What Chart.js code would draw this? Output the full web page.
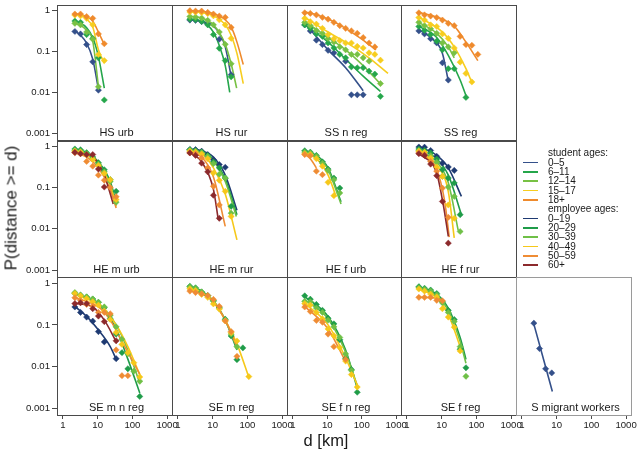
<!DOCTYPE html>
<html><head><meta charset="utf-8">
<script src="https://cdn.jsdelivr.net/npm/chart.js@4.4.1/dist/chart.umd.min.js"></script>
<style>
html,body{margin:0;padding:0;background:#fff;}
#wrap{position:relative;width:639px;height:451px;overflow:hidden;font-family:"Liberation Sans",Arial,Helvetica,sans-serif;color:#1a1a1a;}
#wrap canvas{position:absolute;left:0;top:0;}
.t{position:absolute;white-space:nowrap;line-height:1;}
</style></head><body><div id="wrap"></div>
<script>
// ---------- data ----------
const D_KM = [2.2, 3.2, 4.8, 7.2, 10.5, 15.5, 23, 34, 50, 74, 110, 163, 240, 350]; // distance bins
const STUDENT_AGES = ['0–5', '6–11', '12–14', '15–17', '18+'];
const EMPLOYEE_AGES = ['0–19', '20–29', '30–39', '40–49', '50–59', '60+'];
const X_TICKS = [1, 10, 100, 1000];
const Y_TICKS = [1, 0.1, 0.01, 0.001];
const PANEL_TITLES = ['HS urb', 'HS rur', 'SS n reg', 'SS reg', 'HE m urb', 'HE m rur', 'HE f urb', 'HE f rur',
  'SE m n reg', 'SE m reg', 'SE f n reg', 'SE f reg', 'S migrant workers'];

// points: one array per age series, values at D_KM bins (null = no point)
// fits: one array per age series, [d, P] pairs
const HS_URB_PTS = [
  [0.31, 0.27, 0.148, 0.056, 0.0113],
  [0.56, 0.52, 0.26, 0.21, 0.07, 0.0065],
  [0.49, 0.45, 0.3, 0.2, 0.0137],
  [0.78, 0.75, 0.65, 0.45, 0.0845, 0.06],
  [0.83, 0.83, 0.72, 0.65, 0.27, 0.155]];
const HS_URB_FIT = [
  [[2.2, 0.32], [3.2, 0.25], [4.8, 0.16], [7.2, 0.065], [10.5, 0.012]],
  [[2.2, 0.55], [3.2, 0.5], [4.8, 0.38], [7.2, 0.22], [10.5, 0.075], [15.5, 0.0127]],
  [[2.2, 0.49], [3.2, 0.44], [4.8, 0.33], [7.2, 0.18], [10.5, 0.014]],
  [[2.2, 0.8], [3.2, 0.75], [4.8, 0.62], [7.2, 0.4], [10.5, 0.11], [15.5, 0.052]],
  [[2.2, 0.85], [3.2, 0.8], [4.8, 0.72], [7.2, 0.55], [10.5, 0.3], [15.5, 0.148]]];

const HS_RUR_PTS = [
  [0.59, 0.58, 0.54, 0.47, null, 0.2, null, 0.027],
  [0.62, 0.6, 0.55, 0.45, 0.26, 0.12, 0.06, 0.024],
  [0.72, 0.7, 0.66, 0.58, 0.45, 0.3, 0.15, 0.05],
  [0.93, 0.92, 0.9, 0.85, 0.75, 0.6, 0.45, 0.21],
  [1.0, 0.98, 0.98, 0.91, 0.83, 0.74, 0.69, 0.39]];
const HS_RUR_FIT = [
  [[2.2, 0.6], [4.8, 0.55], [10.5, 0.42], [15.5, 0.28], [23, 0.13], [34, 0.025]],
  [[2.2, 0.62], [4.8, 0.55], [10.5, 0.3], [15.5, 0.14], [23, 0.045], [31, 0.01]],
  [[2.2, 0.73], [4.8, 0.66], [10.5, 0.45], [23, 0.15], [34, 0.05], [49, 0.0127]],
  [[2.2, 0.95], [4.8, 0.9], [10.5, 0.75], [23, 0.45], [34, 0.25], [50, 0.09], [76, 0.0164]],
  [[2.2, 1.0], [4.8, 0.97], [10.5, 0.85], [23, 0.6], [34, 0.4], [50, 0.17], [76, 0.048]]];

const SS_NREG_PTS = [
  [0.45, 0.32, 0.19, 0.148, 0.107, 0.093, null, 0.058, 0.0087, 0.0087, 0.0087],
  [0.45, 0.37, 0.27, 0.235, 0.162, 0.122, 0.085, 0.07, 0.042, 0.04, 0.04, 0.033, 0.028, 0.008],
  [0.52, 0.43, 0.33, 0.28, 0.21, 0.17, 0.13, 0.11, 0.085, 0.085, 0.07, 0.058, null, 0.0164],
  [0.65, 0.54, 0.47, 0.37, 0.26, 0.206, 0.185, 0.162, 0.162, 0.134, 0.122, 0.093, 0.085, 0.0615],
  [0.89, 0.86, 0.79, 0.69, 0.62, 0.52, 0.43, 0.37, 0.32, 0.28, 0.22, 0.162, 0.13]];
const SS_NREG_FIT = [
  [[2.2, 0.49], [10.5, 0.11], [34, 0.04], [110, 0.011]],
  [[2.2, 0.45], [10.5, 0.17], [34, 0.065], [110, 0.025], [350, 0.0105]],
  [[2.2, 0.55], [10.5, 0.22], [34, 0.11], [110, 0.045], [350, 0.016]],
  [[2.2, 0.68], [10.5, 0.3], [50, 0.14], [163, 0.07], [580, 0.029]],
  [[2.2, 0.93], [4.8, 0.8], [10.5, 0.63], [23, 0.45], [50, 0.3], [110, 0.19], [260, 0.11]]];

const SS_REG_PTS = [
  [0.32, 0.27, 0.206, 0.162, 0.053, 0.02],
  [0.41, 0.33, 0.26, 0.18, 0.11, 0.038, 0.038, null, 0.0075],
  [0.52, 0.43, 0.36, 0.28, 0.162, 0.13, 0.093],
  [0.68, 0.59, 0.45, 0.41, 0.27, 0.21, 0.122, 0.055, 0.029, 0.018],
  [0.89, 0.79, 0.74, 0.68, 0.59, 0.49, 0.43, 0.235, 0.148, 0.142, 0.085]];
const SS_REG_FIT = [
  [[2.2, 0.34], [4.8, 0.22], [10.5, 0.09], [15.5, 0.019]],
  [[2.2, 0.42], [7.2, 0.22], [15.5, 0.08], [34, 0.02], [50, 0.0083]],
  [[2.2, 0.52], [7.2, 0.28], [15.5, 0.13], [23, 0.07]],
  [[2.2, 0.7], [10.5, 0.3], [23, 0.13], [50, 0.038], [74, 0.0175]],
  [[2.2, 0.92], [10.5, 0.62], [23, 0.42], [50, 0.17], [110, 0.06]]];

const HE_MURB_PTS = [
  [],
  [0.86, 0.82, 0.7, 0.55, 0.4, 0.27, 0.155, 0.081],
  [0.8, 0.76, 0.66, 0.52, 0.37, 0.24, 0.14, 0.044],
  [0.76, 0.72, 0.62, 0.48, 0.34, 0.22, 0.155, 0.051],
  [0.7, 0.66, 0.43, 0.33, 0.2, 0.15, 0.1, 0.06],
  [0.71, 0.66, 0.63, 0.63, 0.28, 0.103]];
const HE_MURB_FIT = [
  [],
  [[2.2, 0.85], [4.8, 0.72], [10.5, 0.42], [23, 0.14], [34, 0.045]],
  [[2.2, 0.8], [4.8, 0.68], [10.5, 0.38], [23, 0.12], [34, 0.038]],
  [[2.2, 0.76], [4.8, 0.64], [10.5, 0.36], [23, 0.11], [34, 0.035]],
  [[2.2, 0.7], [4.8, 0.55], [10.5, 0.3], [23, 0.09], [34, 0.032]],
  [[2.2, 0.72], [7.2, 0.55], [15.5, 0.2], [28, 0.04]]];

const HE_MRUR_PTS = [
  [0.83, 0.83, 0.76, 0.63, 0.47, 0.36, 0.31],
  [0.83, 0.79, 0.73, 0.6, 0.42, 0.3, 0.17, 0.035],
  [0.8, 0.76, 0.7, 0.57, 0.38, 0.21, 0.17, 0.024],
  [0.76, 0.72, 0.65, 0.5, 0.225, 0.15, 0.081, 0.02],
  [0.69, 0.66, 0.52, 0.3, 0.107, 0.038],
  [0.69, 0.6, 0.39, 0.24, 0.065, 0.018]];
const HE_MRUR_FIT = [
  [[2.2, 0.85], [4.8, 0.78], [10.5, 0.55], [23, 0.2], [50, 0.028]],
  [[2.2, 0.84], [4.8, 0.75], [10.5, 0.48], [23, 0.16], [50, 0.022]],
  [[2.2, 0.8], [4.8, 0.72], [10.5, 0.44], [23, 0.14], [48, 0.02]],
  [[2.2, 0.77], [4.8, 0.66], [10.5, 0.3], [23, 0.07], [50, 0.0054]],
  [[2.2, 0.7], [4.8, 0.55], [10.5, 0.18], [23, 0.0115]],
  [[2.2, 0.7], [4.8, 0.42], [10.5, 0.09], [14.5, 0.0166]]];

const HE_FURB_PTS = [
  [],
  [0.78, 0.72, 0.6, 0.42, 0.28, 0.17, 0.097],
  [0.72, 0.69, 0.57, 0.39, 0.26, 0.155, 0.074],
  [0.66, 0.63, 0.5, 0.33, 0.134, 0.0635],
  [0.63, 0.59, 0.25, 0.205],
  []];
const HE_FURB_FIT = [
  [],
  [[2.2, 0.78], [4.8, 0.6], [10.5, 0.3], [25, 0.045]],
  [[2.2, 0.72], [4.8, 0.56], [10.5, 0.27], [25, 0.04]],
  [[2.2, 0.67], [4.8, 0.5], [10.5, 0.2], [18, 0.06]],
  [[2.2, 0.64], [3.2, 0.5], [4.8, 0.3]],
  []];

const HE_FRUR_PTS = [
  [0.96, 0.95, 0.79, 0.57, 0.39, 0.315, 0.26],
  [0.86, 0.8, 0.69, 0.49, 0.27, 0.17, 0.129, 0.022],
  [0.8, 0.71, 0.59, 0.41, 0.187, 0.103, 0.061, 0.0086],
  [0.76, 0.72, 0.52, 0.315, 0.187, 0.038, 0.018],
  [0.69, 0.63, 0.43, 0.25, 0.097, 0.019],
  [0.66, 0.6, 0.37, 0.194, 0.046, 0.0045]];
const HE_FRUR_FIT = [
  [[2.2, 0.97], [7.2, 0.6], [15.5, 0.3], [37, 0.061]],
  [[2.2, 0.88], [7.2, 0.5], [15.5, 0.2], [37, 0.022]],
  [[2.2, 0.8], [7.2, 0.42], [15.5, 0.13], [30, 0.009]],
  [[2.2, 0.77], [7.2, 0.35], [15.5, 0.08], [23, 0.006]],
  [[2.2, 0.7], [7.2, 0.27], [12, 0.05], [16.5, 0.0063]],
  [[2.2, 0.67], [7.2, 0.22], [11, 0.04], [15.5, 0.0066]]];

const SE_MNREG_PTS = [
  [0.27, 0.2, 0.154, 0.123, 0.069, 0.039, null, 0.0154],
  [0.57, 0.52, 0.47, 0.42, 0.35, 0.26, 0.14, 0.06, 0.0215, 0.0088, null, 0.0019],
  [0.6, 0.52, 0.47, 0.42, 0.35, 0.27, 0.17, 0.09, 0.045, 0.02, 0.0077, 0.0044],
  [0.57, 0.5, 0.43, 0.36, 0.3, 0.215, 0.135, 0.066, 0.034, 0.0215, 0.0123, 0.0056],
  [0.45, 0.39, 0.31, 0.285, 0.2, 0.2, 0.185, 0.025, 0.006, 0.006],
  [0.325, 0.34, 0.325, 0.245, 0.163, 0.12, null, 0.0415]];
const SE_MNREG_FIT = [
  [[2.2, 0.28], [4.8, 0.16], [10.5, 0.075], [23, 0.03], [34, 0.015]],
  [[2.2, 0.55], [10.5, 0.33], [34, 0.08], [74, 0.015], [163, 0.0023]],
  [[2.2, 0.55], [10.5, 0.33], [34, 0.1], [74, 0.025], [163, 0.004]],
  [[2.2, 0.55], [10.5, 0.3], [34, 0.1], [74, 0.03], [170, 0.0058]],
  [[2.2, 0.45], [10.5, 0.27], [23, 0.13], [50, 0.04], [110, 0.012], [163, 0.0065]],
  [[2.2, 0.33], [7.2, 0.27], [15.5, 0.13], [34, 0.04]]];

const SE_MREG_PTS = [
  [],
  [0.85, 0.78, 0.62, 0.51, 0.385, 0.265, 0.137, 0.054, 0.0146, 0.028],
  [0.82, 0.76, 0.62, 0.5, 0.37, 0.25, 0.13, 0.06, 0.03],
  [0.74, 0.67, 0.54, 0.46, 0.32, 0.24, 0.125, 0.065, 0.041, null, 0.0057],
  [0.65, 0.6, 0.56, 0.51, 0.41, 0.28, 0.125, 0.069, 0.0175],
  []];
const SE_MREG_FIT = [
  [],
  [[2.2, 0.85], [4.8, 0.66], [10.5, 0.38], [23, 0.13], [50, 0.025]],
  [[2.2, 0.82], [4.8, 0.64], [10.5, 0.37], [23, 0.13], [50, 0.028]],
  [[2.2, 0.75], [4.8, 0.6], [10.5, 0.35], [23, 0.13], [50, 0.035], [110, 0.0055]],
  [[2.2, 0.66], [4.8, 0.56], [10.5, 0.36], [23, 0.13], [50, 0.03]],
  []];

const SE_FNREG_PTS = [
  [],
  [0.5, 0.415, 0.31, 0.224, 0.145, 0.106, 0.044, 0.0154, 0.0085, 0.0024],
  [0.37, 0.36, 0.255, 0.2, 0.13, 0.09, 0.05, 0.02, 0.008],
  [0.325, 0.3, 0.2, 0.14, 0.08, 0.055, 0.0285, 0.0135, 0.0064, 0.0032],
  [0.27, 0.21, 0.128, 0.116, 0.06, 0.03, null, 0.0148],
  []];
const SE_FNREG_FIT = [
  [],
  [[2.2, 0.48], [10.5, 0.16], [34, 0.025], [74, 0.003]],
  [[2.2, 0.4], [10.5, 0.14], [34, 0.022], [74, 0.0035]],
  [[2.2, 0.33], [10.5, 0.1], [34, 0.016], [77, 0.0033]],
  [[2.2, 0.28], [10.5, 0.08], [34, 0.013]],
  []];

const SE_FREG_PTS = [
  [],
  [0.83, 0.76, 0.69, 0.57, 0.36, 0.224, 0.135, 0.026, 0.0093],
  [0.78, 0.72, 0.65, 0.53, 0.34, 0.2, 0.12, 0.03, 0.0058],
  [0.73, 0.65, 0.55, 0.47, 0.245, 0.154, 0.088, 0.0237],
  [0.46, 0.46, 0.46, 0.39, 0.38],
  []];
const SE_FREG_FIT = [
  [],
  [[2.2, 0.82], [7.2, 0.55], [15.5, 0.25], [34, 0.05], [50, 0.0148]],
  [[2.2, 0.78], [7.2, 0.5], [15.5, 0.22], [34, 0.04], [50, 0.012]],
  [[2.2, 0.72], [7.2, 0.45], [15.5, 0.18], [34, 0.03]],
  [[2.2, 0.46], [7.2, 0.44], [10.5, 0.38]],
  []];

const S_MIGRANT_PTS = [[0.11, 0.027, 0.0088, 0.007]];
const S_MIGRANT_FIT = [[[2.1, 0.12], [7.5, 0.0025]]];

// ---------- styles & layout ----------
const STUDENT_COLORS = ['#34508a', '#25a64b', '#78c144', '#f7cd1f', '#ef8a2c'];
const EMPLOYEE_COLORS = ['#1e3a72', '#1f9c49', '#6fc047', '#f6c81a', '#ef8c34', '#8c2a2c'];
const COL_LEFT = [57, 172, 287, 401, 516];
const COL_RIGHT = [172, 287, 401, 516, 631];
const ROW_TOP = [3, 140, 277];
const ROW_BOTTOM = [140, 277, 415];
const X_MIN = 0.672, X_MAX = 1384, Y_MIN = 0.00068, Y_MAX = 1.42;
const W = 639, H = 451;
const FONT = '"Liberation Sans", Arial, Helvetica, sans-serif';

const PANELS = [
  { r: 0, c: 0, g: 's', pts: HS_URB_PTS, fit: HS_URB_FIT },
  { r: 0, c: 1, g: 's', pts: HS_RUR_PTS, fit: HS_RUR_FIT },
  { r: 0, c: 2, g: 's', pts: SS_NREG_PTS, fit: SS_NREG_FIT },
  { r: 0, c: 3, g: 's', pts: SS_REG_PTS, fit: SS_REG_FIT },
  { r: 1, c: 0, g: 'e', pts: HE_MURB_PTS, fit: HE_MURB_FIT },
  { r: 1, c: 1, g: 'e', pts: HE_MRUR_PTS, fit: HE_MRUR_FIT },
  { r: 1, c: 2, g: 'e', pts: HE_FURB_PTS, fit: HE_FURB_FIT },
  { r: 1, c: 3, g: 'e', pts: HE_FRUR_PTS, fit: HE_FRUR_FIT },
  { r: 2, c: 0, g: 'e', pts: SE_MNREG_PTS, fit: SE_MNREG_FIT },
  { r: 2, c: 1, g: 'e', pts: SE_MREG_PTS, fit: SE_MREG_FIT },
  { r: 2, c: 2, g: 'e', pts: SE_FNREG_PTS, fit: SE_FNREG_FIT },
  { r: 2, c: 3, g: 'e', pts: SE_FREG_PTS, fit: SE_FREG_FIT },
  { r: 2, c: 4, g: 's', pts: S_MIGRANT_PTS, fit: S_MIGRANT_FIT }
].map((p, i) => Object.assign(p, { title: PANEL_TITLES[i] }));

const wrap = document.getElementById('wrap');

const framePlugin = {
  id: 'frame',
  afterDraw(chart, args, opts) {
    const a = chart.chartArea, ctx = chart.ctx;
    ctx.save();
    ctx.strokeStyle = opts.color || '#4a4a4a';
    ctx.lineWidth = 1;
    ctx.strokeRect(Math.round(a.left) + 0.5, Math.round(a.top) + 0.5,
      Math.round(a.right - a.left), Math.round(a.bottom - a.top));
    ctx.restore();
  }
};

function addText(txt, x, y, size, extra) {
  const d = document.createElement('div');
  d.className = 't';
  d.textContent = txt;
  d.style.fontSize = size + 'px';
  d.style.left = x + 'px';
  d.style.top = y + 'px';
  d.style.transform = extra || 'translate(-50%,-50%)';
  wrap.appendChild(d);
  return d;
}

PANELS.forEach(p => {
  const cv = document.createElement('canvas');
  cv.width = W; cv.height = H;
  wrap.appendChild(cv);
  const colors = p.g === 's' ? STUDENT_COLORS : EMPLOYEE_COLORS;
  const showY = p.c === 0, showX = p.r === 2;
  const yw = showY ? 50 : 0, xh = showX ? 20 : 0;
  const L = COL_LEFT[p.c], R = COL_RIGHT[p.c], T = ROW_TOP[p.r], B = ROW_BOTTOM[p.r];

  const pointSets = [], lineSets = [];
  for (let s = p.pts.length - 1; s >= 0; s--) {
    const vals = p.pts[s] || [];
    const data = [];
    vals.forEach((v, i) => { if (v !== null && v !== undefined) data.push({ x: D_KM[i], y: v }); });
    if (data.length) pointSets.push({
      data, showLine: false, pointStyle: 'rectRot', pointRadius: 3.1,
      backgroundColor: colors[s], borderColor: colors[s], borderWidth: 0.5
    });
    const f = (p.fit[s] || []).map(q => ({ x: q[0], y: q[1] }));
    if (f.length) lineSets.push({
      data: f, showLine: true, pointRadius: 0, borderColor: colors[s], borderWidth: 1.6,
      cubicInterpolationMode: 'monotone', tension: 0.4, fill: false
    });
  }

  const tickFont = { family: FONT, size: 9.6 };
  new Chart(cv, {
    type: 'scatter',
    data: { datasets: pointSets.concat(lineSets) },
    options: {
      responsive: false, animation: false, devicePixelRatio: 1,
      events: [],
      layout: { padding: { left: L - yw, top: T, right: W - R, bottom: H - B - xh } },
      plugins: { legend: { display: false }, tooltip: { enabled: false },
        frame: { color: p.c === 4 ? '#9a9a9a' : '#4a4a4a' } },
      scales: {
        x: {
          type: 'logarithmic', position: 'bottom', min: X_MIN, max: X_MAX,
          afterBuildTicks: sc => { sc.ticks = X_TICKS.map(v => ({ value: v })); },
          afterFit: sc => { sc.height = xh; sc.paddingLeft = 0; sc.paddingRight = 0; },
          ticks: { display: showX, autoSkip: false, maxRotation: 0, padding: 1, color: '#1a1a1a',
            font: tickFont, callback: v => String(v) },
          grid: { display: showX, drawOnChartArea: false, drawTicks: true, tickLength: 4, color: '#4a4a4a' },
          border: { display: false }
        },
        y: {
          type: 'logarithmic', position: 'left', min: Y_MIN, max: Y_MAX,
          afterBuildTicks: sc => { sc.ticks = Y_TICKS.map(v => ({ value: v })); },
          afterFit: sc => { sc.width = yw; sc.paddingTop = 0; sc.paddingBottom = 0; },
          ticks: { display: showY, autoSkip: false, padding: 2, color: '#1a1a1a',
            font: tickFont, callback: v => String(v) },
          grid: { display: showY, drawOnChartArea: false, drawTicks: true, tickLength: 5, color: '#4a4a4a' },
          border: { display: false }
        }
      }
    },
    plugins: [framePlugin]
  });

  addText(p.title, (L + R) / 2 + 2, B - 8.5, 11);
});

// axis titles
addText('P(distance >= d)', 11, 208, 17, 'translate(-50%,-50%) rotate(-90deg)');
addText('d [km]', 326, 440, 16.5);

// legend
const legendRows = [{ head: 'student ages:' }]
  .concat(STUDENT_AGES.map((t, i) => ({ text: t, color: STUDENT_COLORS[i] })))
  .concat([{ head: 'employee ages:' }])
  .concat(EMPLOYEE_AGES.map((t, i) => ({ text: t, color: EMPLOYEE_COLORS[i] })));
legendRows.forEach((row, k) => {
  const y = 153.3 + 9.33 * k;
  addText(row.head || row.text, 548, y, 10, 'translate(0,-50%)');
  if (row.color) {
    const sw = document.createElement('div');
    sw.style.cssText = 'position:absolute;left:523px;width:15px;height:1.6px;background:' + row.color + ';top:' + (y - 0.8) + 'px;';
    wrap.appendChild(sw);
  }
});
</script></body></html>
